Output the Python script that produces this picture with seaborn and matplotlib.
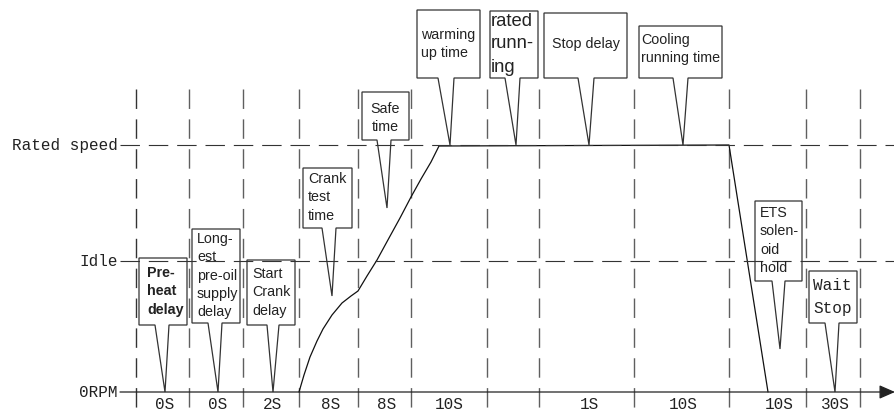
import matplotlib
matplotlib.use("Agg")
import matplotlib.pyplot as plt
import seaborn as sns
from matplotlib.patches import Polygon

# ── DATA ─────────────────────────────────────────────────────────────────────
# diagram drawn in a pixel-like frame: x to the right, y downwards
level_names = ["Rated speed", "Idle", "0RPM"]
level_y = [145, 261, 392]

stage_edges = [136, 189, 243, 299, 358, 411, 487, 539, 634, 729, 806, 860]

duration_labels = ["0S", "0S", "2S", "8S", "8S", "10S", "1S", "10S", "10S", "30S"]
duration_x = [165, 218, 273, 331, 387, 449, 589, 683, 779, 835]

# engine speed profile
speed_x = [299, 304, 310, 317, 323, 332, 342, 351, 358, 367, 377, 389, 400, 411, 421, 431, 439, 729, 768]
speed_y = [392, 375, 357, 341, 329, 315, 303, 296, 291, 276, 260, 238, 218, 197, 179, 162, 146, 145, 392]

callout_texts = [
    "Pre-\nheat\ndelay",
    "Long-\nest\npre-oil\nsupply\ndelay",
    "Start\nCrank\ndelay",
    "Crank\ntest\ntime",
    "Safe\ntime",
    "warming\nup time",
    "rated\nrunn-\ning",
    "Stop delay",
    "Cooling\nrunning time",
    "ETS\nsolen-\noid\nhold",
    "Wait\nStop",
]
# box: left, right, top, bottom
callout_boxes = [
    (139, 187, 258, 325),
    (192, 240, 229, 323),
    (247, 295, 260, 325),
    (303, 352, 168, 228),
    (362, 409, 92, 140),
    (417, 480, 10, 78),
    (490, 538, 11, 78),
    (544, 627, 13, 78),
    (639, 722, 26, 78),
    (755, 802, 201, 281),
    (809, 857, 271, 323),
]
# tail: base left, base right, tip x, tip y
callout_tails = [
    (155, 169, 165, 392),
    (208, 222, 218, 392),
    (267, 279, 273, 392),
    (322, 336, 332, 296),
    (377, 391, 387, 208),
    (438, 454, 450, 145),
    (505, 520, 516, 145),
    (578, 594, 589, 145),
    (673, 688, 683, 145),
    (772, 785, 780, 349),
    (825, 839, 835, 392),
]

# text placement inside each box: x offset, y offset of the first line centre
text_dx = [8, 5, 5, 5, 0, 4, 1, 8, 2, 5, 4]
text_dy = [15, 10, 14, 11, 17, 25, 10, 31, 14, 12, 14]

# ── FIGURE ───────────────────────────────────────────────────────────────────
sns.set_theme(style="white")
plt.rcParams["font.family"] = ["Liberation Sans", "DejaVu Sans"]

fig = plt.figure(figsize=(8.95, 4.11), dpi=100)
ax = fig.add_axes([0, 0, 1, 1])
ax.set_xlim(0, 895)
ax.set_ylim(411, 0)
ax.axis("off")

mono = "Liberation Mono"

# stage boundaries
for i, x in enumerate(stage_edges):
    ax.plot([x, x], [89, 411], color="#333333" if i == 0 else "#5f5f5f",
            lw=1.0, ls=(0, (14, 7.5)), zorder=1)

# speed levels
for y in level_y[:2]:
    ax.plot([120, 895], [y, y], color="#333333", lw=0.8, ls=(0, (17.5, 8)), zorder=4)
for name, y in zip(level_names, level_y):
    ax.text(118, y, name, ha="right", va="center", family=mono, fontsize=11.5, color="#222222")

# time axis with arrow
ax.annotate("", xy=(895, level_y[2]), xytext=(120, level_y[2]),
            arrowprops=dict(arrowstyle="-|>,head_length=0.8,head_width=0.35",
                            color="#222222", lw=0.9, shrinkA=0, shrinkB=0), zorder=5)

for lab, x in zip(duration_labels, duration_x):
    ax.text(x, 404, lab, ha="center", va="center", family=mono, fontsize=11.5, color="#222222")

# speed profile
sns.lineplot(x=speed_x, y=speed_y, sort=False, estimator=None, color="#111111",
             lw=0.9, ax=ax, zorder=3)

# callouts
for i, (txt, box, tail) in enumerate(zip(callout_texts, callout_boxes, callout_tails)):
    x0, x1, y0, y1 = box
    tl, tr, tx, ty = tail
    pts = [(x0, y0), (x1, y0), (x1, y1), (tr, y1), (tx, ty), (tl, y1), (x0, y1)]
    ax.add_patch(Polygon(pts, closed=True, facecolor="white", edgecolor="#333333",
                         lw=0.9, zorder=2))

    size, step, fam, weight = 10.3, 18.3, None, "normal"
    if i == 0:
        weight = "semibold"
    if i == 6:
        size, step = 13.3, 23
    if i == 10:
        size, step, fam = 11.5, 23, mono
    kw = dict(fontsize=size, color="#222222", fontweight=weight, zorder=6,
              va="center", ha="center" if i == 4 else "left")
    if fam:
        kw["family"] = fam

    xt = (x0 + x1) / 2 if i == 4 else x0 + text_dx[i]
    # one text per line, so the line pitch matches the picture
    for k, line in enumerate(txt.split("\n")):
        ax.text(xt, y0 + text_dy[i] + k * step, line, **kw)

fig.savefig("out.png", dpi=100)
